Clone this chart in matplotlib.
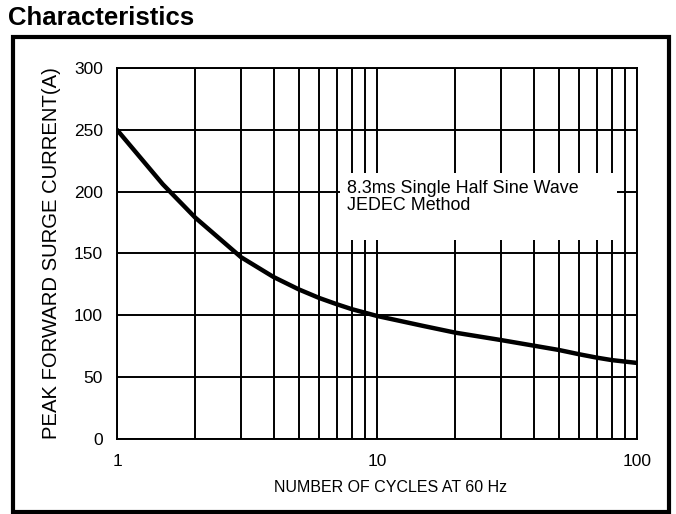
import matplotlib
matplotlib.use("Agg")
import matplotlib.pyplot as plt
from matplotlib.patches import Rectangle
from matplotlib.ticker import LogLocator, NullFormatter, FixedLocator

cycles = [1, 1.5, 2, 3, 4, 5, 6, 7, 8, 10, 15, 20, 30, 40, 50, 60, 70, 80, 100]
current = [250, 206, 179, 147, 131, 121, 114, 109, 105, 99.5, 91.5, 86, 80, 75.5,
           72, 68.5, 65.8, 63.8, 61.5]
y_ticks = [0, 50, 100, 150, 200, 250, 300]
x_ticks = [1, 10, 100]
x_tick_labels = ["1", "10", "100"]

plt.rcParams['font.family'] = ['Liberation Sans', 'DejaVu Sans']

fig = plt.figure(figsize=(6.76, 5.14), dpi=100)
W, H = 676, 514
ax = fig.add_axes([117 / W, 1 - 439 / H, (637 - 117) / W, (439 - 68) / H])

ax.set_xscale('log')
ax.set_xlim(1, 100)
ax.set_ylim(0, 300)
ax.xaxis.set_major_locator(FixedLocator(x_ticks))
ax.set_xticklabels(x_tick_labels)
ax.xaxis.set_minor_locator(LogLocator(base=10, subs=range(2, 10)))
ax.xaxis.set_minor_formatter(NullFormatter())
ax.set_yticks(y_ticks)

ax.grid(True, which='both', axis='x', color='black', linewidth=1.4)
ax.grid(True, which='major', axis='y', color='black', linewidth=1.4)
ax.set_axisbelow(True)
ax.tick_params(which='both', length=0, labelsize=12.5)
ax.tick_params(axis='x', pad=11)
ax.tick_params(axis='y', pad=10)
for s in ax.spines.values():
    s.set_linewidth(1.4)

ax.plot(cycles, current, color='black', linewidth=3.2, solid_capstyle='round',
        solid_joinstyle='round', zorder=3)

# annotation box (white background hides grid)
ax.add_patch(Rectangle((7.2, 161), 83.8 - 7.2, 215 - 161, facecolor='white',
                       edgecolor='none', zorder=2))
ax.text(7.67, 198.9, "8.3ms Single Half Sine Wave", fontsize=12.9,
        va='baseline', ha='left', zorder=4)
ax.text(7.67, 185.2, "JEDEC Method", fontsize=12.9,
        va='baseline', ha='left', zorder=4)

ax.set_xlabel("NUMBER OF CYCLES AT 60 Hz", fontsize=11.5, va='center')
ax.xaxis.set_label_coords((390 - 117) / 520, (439 - 488) / 371)
ax.set_ylabel("PEAK FORWARD SURGE CURRENT(A)", fontsize=14.6, va='center')
ax.yaxis.set_label_coords((52 - 117) / 520, 0.5)

fig.text(8 / W, 1 - 25 / H, "Characteristics", fontsize=18.5, fontweight='bold',
         va='baseline', ha='left')
fig.patches.append(Rectangle((13 / W, 1 - 512 / H), (669 - 13) / W, (512 - 36.5) / H,
                             transform=fig.transFigure, facecolor='none',
                             edgecolor='black', linewidth=3.0))

fig.savefig("out.png", dpi=100)
